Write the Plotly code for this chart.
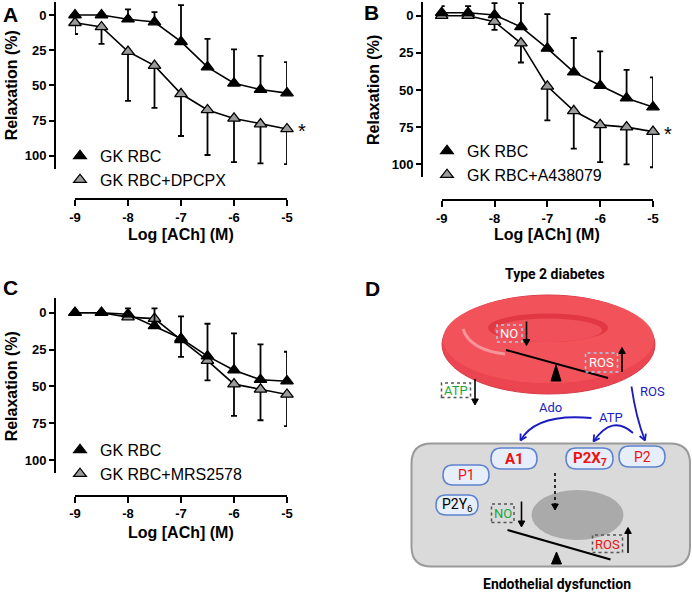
import math
import plotly.graph_objects as go

W, H = 692, 595


def X(x):
    return x / W


def Y(y):
    return 1 - y / H


# ---------------- data ----------------
log_ach = [-9, -8.5, -8, -7.5, -7, -6.5, -6, -5.5, -5]
x_ticks = [-9, -8, -7, -6, -5]
y_ticks = [0, 25, 50, 75, 100]

a_ctrl = [0, 0, 3, 5, 19, 37, 48.5, 53, 55.5]
a_ctrl_err = [1, 1, 7, 7, 26, 20, 24, 24, 22]
a_drug = [5.5, 8.5, 26, 36, 56, 67.5, 73.5, 77.5, 81]
a_drug_err = [8, 12, 35, 30, 30, 32, 31, 28, 25]

b_ctrl = [-2, -2, -0.5, 7.5, 22, 38, 47, 55.5, 61.5]
b_ctrl_err = [4.5, 4.5, 8, 16, 23, 23, 23, 19, 20]
b_drug = [0, 0, 4, 18.5, 47.5, 64, 73.5, 75, 78]
b_drug_err = [1, 1, 5.5, 13, 23, 25.5, 25, 25, 24]

c_ctrl = [0, 0, 1, 9, 17.5, 29.5, 39, 45.5, 46.5]
c_ctrl_err = [0, 0, 4, 12, 15, 22, 25, 24, 20]
c_drug = [0, 0, 3, 4, 18.5, 32.5, 48.5, 52, 55.5]
c_drug_err = [0, 0, 0, 3, 11.5, 13.5, 21.5, 21, 21.5]

ctrl_label = "GK RBC"
drug_labels = ["GK RBC+DPCPX", "GK RBC+A438079", "GK RBC+MRS2578"]
x_title = "Log [ACh] (M)"
y_title = "Relaxation (%)"

# panel geometry in pixels
panels = [
    dict(letter="A", ctrl=a_ctrl, ce=a_ctrl_err, drug=a_drug, de=a_drug_err, dl=drug_labels[0], star=True,
         yx=55, ytop=2, ybot=169.3, y0=15, y100=155.7, xl=75, xr=287, xline=199,
         ytx=11, xty=235, leg=(60, 139), let=(10, 14)),
    dict(letter="B", ctrl=b_ctrl, ce=b_ctrl_err, drug=b_drug, de=b_drug_err, dl=drug_labels[1], star=True,
         yx=422, ytop=2, ybot=176.7, y0=15.7, y100=164.3, xl=441.7, xr=653, xline=200,
         ytx=373, xty=235, leg=(427, 134), let=(371.5, 12)),
    dict(letter="C", ctrl=c_ctrl, ce=c_ctrl_err, drug=c_drug, de=c_drug_err, dl=drug_labels[2], star=False,
         yx=55, ytop=298.3, ybot=473.3, y0=312.7, y100=460, xl=75, xr=287, xline=495.7,
         ytx=11, xty=532.7, leg=(60, 433), let=(10, 287)),
]

FONT = "Liberation Sans"
RFONT = "Roboto"
fig = go.Figure()
annotations = []
shapes = []
layout_axes = {}

for i, p in enumerate(panels):
    k = "" if i == 0 else str(i + 1)
    xa, ya = "x" + k, "y" + k
    leg = "legend" + k
    s = (p["y100"] - p["y0"]) / 100.0
    r_top = (p["ytop"] - p["y0"]) / s
    r_bot = (p["ybot"] - p["y0"]) / s
    layout_axes["xaxis" + k] = dict(
        domain=[X(p["xl"]), X(p["xr"])], range=[-9, -5], anchor="free", position=Y(p["xline"]),
        showline=True, linecolor="black", linewidth=2, ticks="outside", ticklen=6, tickwidth=2,
        tickcolor="black", tickvals=x_ticks, ticktext=[str(v) for v in x_ticks],
        tickfont=dict(family=FONT, size=13, color="black", weight="bold"),
        showgrid=False, zeroline=False, fixedrange=True, automargin=False)
    layout_axes["yaxis" + k] = dict(
        domain=[Y(p["ybot"]), Y(p["ytop"])], range=[r_bot, r_top], anchor="free", position=X(p["yx"]),
        showline=True, linecolor="black", linewidth=2, ticks="outside", ticklen=5, tickwidth=2,
        tickcolor="black", tickvals=y_ticks, tickfont=dict(family=FONT, size=13, color="black", weight="bold"),
        showgrid=False, zeroline=False, fixedrange=True, automargin=False)
    layout_axes[leg] = dict(
        x=X(p["leg"][0]), y=Y(p["leg"][1]), xanchor="left", yanchor="top",
        font=dict(family=FONT, size=16, color="black"), bgcolor="rgba(0,0,0,0)",
        tracegroupgap=0, itemwidth=30)

    # connecting lines
    for vals in (p["drug"], p["ctrl"]):
        fig.add_trace(go.Scatter(x=log_ach, y=vals, mode="lines", xaxis=xa, yaxis=ya,
                                 line=dict(color="black", width=1.6), showlegend=False,
                                 hoverinfo="skip"))
    # drug (grey, error bars downward)
    fig.add_trace(go.Scatter(
        x=log_ach, y=p["drug"], mode="markers", name=p["dl"], xaxis=xa, yaxis=ya, legend=leg,
        legendrank=2, cliponaxis=False,
        marker=dict(symbol="triangle-up", size=11, color="#9b9b9b", line=dict(color="black", width=1.3)),
        error_y=dict(type="data", symmetric=False, array=p["de"], arrayminus=[0] * len(p["de"]),
                     color="black", thickness=1.8, width=3)))
    # control (black, error bars upward)
    fig.add_trace(go.Scatter(
        x=log_ach, y=p["ctrl"], mode="markers", name=ctrl_label, xaxis=xa, yaxis=ya, legend=leg,
        legendrank=1, cliponaxis=False,
        marker=dict(symbol="triangle-up", size=11, color="black", line=dict(color="black", width=1.3)),
        error_y=dict(type="data", symmetric=False, array=[0] * len(p["ce"]), arrayminus=p["ce"],
                     color="black", thickness=1.8, width=3)))
    if p["star"]:
        annotations.append(dict(x=-5, y=p["drug"][-1], xref=xa, yref=ya, text="*", showarrow=False,
                                xanchor="center", yanchor="middle",
                                xshift=15, yshift=-2, font=dict(family=FONT, size=20, color="black")))
    # axis titles
    annotations.append(dict(x=X(p["ytx"]), y=Y((p["y0"] + p["y100"]) / 2), xref="paper", yref="paper",
                            xanchor="center", yanchor="middle",
                            text=y_title, textangle=-90, showarrow=False,
                            font=dict(family=FONT, size=16, color="black", weight="bold")))
    annotations.append(dict(x=X((p["xl"] + p["xr"]) / 2), y=Y(p["xty"]), xref="paper", yref="paper",
                            xanchor="center", yanchor="middle",
                            text=x_title, showarrow=False,
                            font=dict(family=FONT, size=16, color="black", weight="bold")))
    annotations.append(dict(x=X(p["let"][0]), y=Y(p["let"][1]), xref="paper", yref="paper",
                            xanchor="center", yanchor="middle",
                            text=p["letter"], showarrow=False,
                            font=dict(family=FONT, size=21, color="black", weight="bold")))

# ---------------- panel D (schematic) ----------------
annotations.append(dict(x=X(372), y=Y(288), xref="paper", yref="paper", text="D", showarrow=False,
                        xanchor="center", yanchor="middle",
                        font=dict(family=FONT, size=21, color="black", weight="bold")))


def ellipse(x0, y0, x1, y1, fill, line=None, lw=0):
    shapes.append(dict(type="circle", xref="paper", yref="paper", x0=X(x0), x1=X(x1), y0=Y(y1), y1=Y(y0),
                       fillcolor=fill, line=dict(color=line or fill, width=lw), layer="above"))


def rrect(x0, y0, x1, y1, r, fill, line, lw, dash="solid"):
    pts = (f"M {X(x0 + r)},{Y(y0)} L {X(x1 - r)},{Y(y0)} Q {X(x1)},{Y(y0)} {X(x1)},{Y(y0 + r)} "
           f"L {X(x1)},{Y(y1 - r)} Q {X(x1)},{Y(y1)} {X(x1 - r)},{Y(y1)} L {X(x0 + r)},{Y(y1)} "
           f"Q {X(x0)},{Y(y1)} {X(x0)},{Y(y1 - r)} L {X(x0)},{Y(y0 + r)} Q {X(x0)},{Y(y0)} {X(x0 + r)},{Y(y0)} Z")
    shapes.append(dict(type="path", xref="paper", yref="paper", path=pts, fillcolor=fill,
                       line=dict(color=line, width=lw, dash=dash), layer="above"))


def box(x0, y0, x1, y1, color):
    shapes.append(dict(type="rect", xref="paper", yref="paper", x0=X(x0), x1=X(x1), y0=Y(y1), y1=Y(y0),
                       line=dict(color=color, width=1.5, dash="dot"), fillcolor="rgba(0,0,0,0)", layer="above"))


def seg(x0, y0, x1, y1, color="black", w=2, dash="solid"):
    shapes.append(dict(type="line", xref="paper", yref="paper", x0=X(x0), y0=Y(y0), x1=X(x1), y1=Y(y1),
                       line=dict(color=color, width=w, dash=dash), layer="above"))


def tri(ax_, ay_, half, base_y):
    pts = f"M {X(ax_)},{Y(ay_)} L {X(ax_ + half)},{Y(base_y)} L {X(ax_ - half)},{Y(base_y)} Z"
    shapes.append(dict(type="path", xref="paper", yref="paper", path=pts, fillcolor="black",
                       line=dict(color="black", width=1), layer="above"))


def varrow(x, y_tail, y_head, w=1.6, dash="solid", head=6):
    d = 1 if y_head > y_tail else -1
    seg(x, y_tail, x, y_head - d * head * 0.6, w=w, dash=dash)
    tri(x, y_head, head * 0.55, y_head - d * head)


def curve_arrow(sx, sy, cx, cy, ex, ey, color, w=1.8, size=7):
    pts = f"M {X(sx)},{Y(sy)} Q {X(cx)},{Y(cy)} {X(ex)},{Y(ey)}"
    shapes.append(dict(type="path", xref="paper", yref="paper", path=pts,
                       line=dict(color=color, width=w), layer="above"))
    dx, dy = ex - cx, ey - cy
    n = math.hypot(dx, dy)
    dx, dy = dx / n, dy / n
    for ang in (0.5, -0.5):
        ca, sa = math.cos(ang), math.sin(ang)
        bx = ex - size * (dx * ca - dy * sa)
        by = ey - size * (dx * sa + dy * ca)
        seg(bx, by, ex, ey, color=color, w=w)


def label(x, y, text, color="black", size=12, bold=False, family=RFONT):
    font = dict(family=family, size=size, color=color)
    if bold:
        font["weight"] = "bold"
    annotations.append(dict(x=X(x), y=Y(y), xref="paper", yref="paper", text=text, showarrow=False,
                            xanchor="center", yanchor="middle", font=font))


label(555, 274, "Type 2 diabetes", size=14, bold=True)
label(557, 584, "Endothelial dysfunction", size=14, bold=True)

# red blood cell
ellipse(442, 295, 655, 394, "#EA4550", "#D63C47", 1)
ellipse(443, 295.5, 654, 383, "#F2535B")
ellipse(488, 313.5, 608, 342, "#E23844")
ellipse(494, 318.5, 602, 342, "#F0505A")
shapes.append(dict(type="path", xref="paper", yref="paper",
                   path=f"M {X(463)},{Y(329)} Q {X(470)},{Y(350)} {X(505)},{Y(354)}",
                   line=dict(color="#F7959A", width=3), layer="above"))
box(497, 325, 522, 342, "#9fd3ea")
label(509.5, 333.5, "NO", color="white", size=13)
varrow(526.5, 321.5, 345.5)
seg(506, 350, 608, 378)
tri(556, 365, 5, 381)
box(585.5, 353, 617.5, 372, "#9fd3ea")
label(601.5, 362.5, "ROS", color="white", size=13)
varrow(622, 372, 347.5)

box(441.5, 383, 470.5, 397.5, "#555555")
label(456, 390.5, "ATP", color="#1DA53A", size=13)
varrow(475, 379, 405)

BLUE = "#1C1CC0"
label(652, 391.5, "ROS", color=BLUE, size=13)
label(550, 407, "Ado", color=BLUE, size=13)
label(611, 417, "ATP", color=BLUE, size=13)
curve_arrow(631.5, 386.5, 636, 418, 645, 440.5, BLUE)
curve_arrow(591.5, 418, 536, 413, 520.5, 440.5, BLUE)
curve_arrow(633, 433, 612, 414, 593.5, 441.5, BLUE)

# endothelial cell
rrect(411.5, 443.5, 690, 566.5, 20, "#DADADA", "#9A9A9A", 2)
ellipse(531.5, 490, 623.5, 540, "#AAAAAA")
PILL_FILL, PILL_LINE = "#E6EEF9", "#5F82CF"
rrect(491, 448, 537, 469, 10.5, PILL_FILL, PILL_LINE, 1.5)
label(514, 458.5, "A1", color="#EE1111", size=15, bold=True)
rrect(566, 448, 613, 469, 10.5, PILL_FILL, PILL_LINE, 1.5)
label(589.5, 458.5, "P2X<sub>7</sub>", color="#EE1111", size=15, bold=True)
rrect(619, 446, 665, 467, 10.5, PILL_FILL, PILL_LINE, 1.5)
label(642, 456.5, "P2", color="#EE1111", size=14)
rrect(443, 465, 489, 485, 10, PILL_FILL, PILL_LINE, 1.5)
label(466, 475, "P1", color="#EE1111", size=14)
rrect(436, 495, 478, 515, 10, PILL_FILL, PILL_LINE, 1.5)
label(457, 505, "P2Y<sub>6</sub>", color="black", size=14)

varrow(555, 473, 510, dash="dot")

box(491.5, 504, 514, 522.5, "#555555")
label(503, 513.5, "NO", color="#1DA53A", size=13)
varrow(521.5, 501.5, 527)
seg(507.5, 530, 610.5, 559.5)
tri(556.5, 552, 5, 564)
box(592.5, 535, 622.5, 552.5, "#555555")
label(607.5, 544, "ROS", color="#EE1111", size=13)
varrow(628, 553, 527.5)

fig.update_layout(
    width=W, height=H, margin=dict(l=0, r=0, t=0, b=0, pad=0, autoexpand=False),
    paper_bgcolor="white", plot_bgcolor="rgba(0,0,0,0)",
    showlegend=True, annotations=annotations, shapes=shapes,
    font=dict(family=FONT, color="black"),
    **layout_axes)

fig.write_html("out.html", config={"displayModeBar": False},
               post_script="document.body.style.margin='0px';")
